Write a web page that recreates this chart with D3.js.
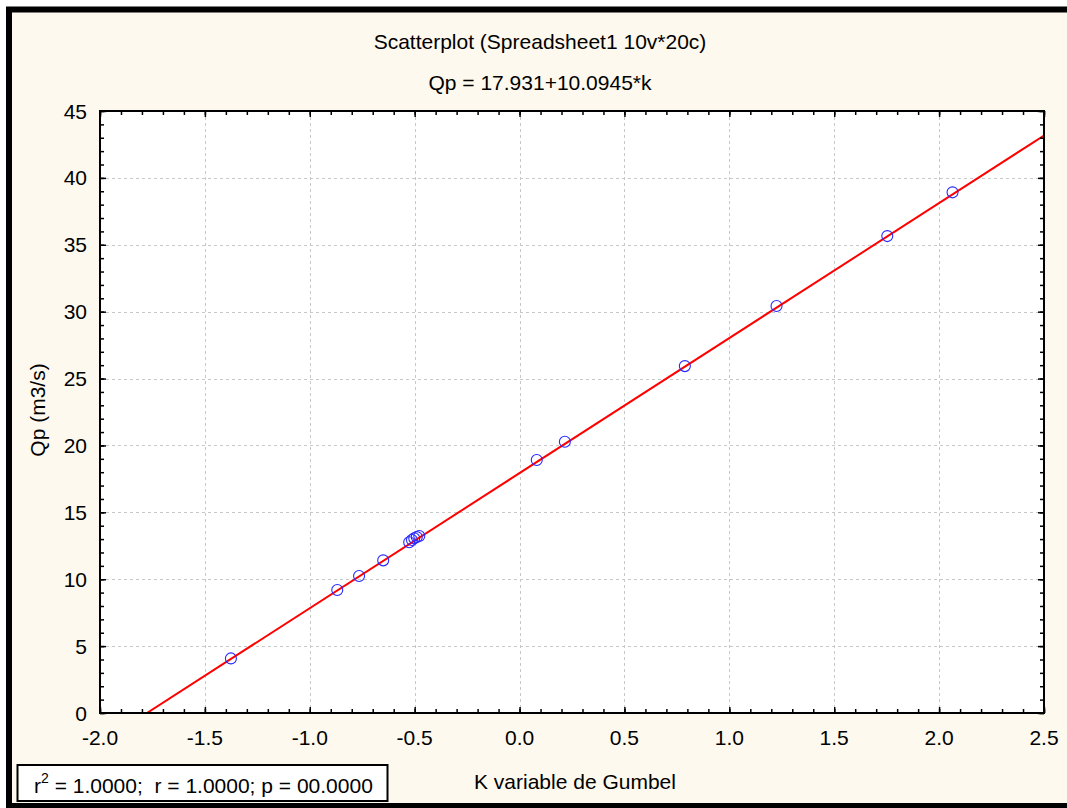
<!DOCTYPE html>
<html><head><meta charset="utf-8">
<script src="https://cdn.jsdelivr.net/npm/d3@7"></script>
<style>body{margin:0;background:#fff;}svg{display:block;font-family:"Liberation Sans",Arial,sans-serif;}</style>
</head><body>
<script>
const kValues = [-1.376, -0.869, -0.765, -0.650, -0.526, -0.513, -0.502, -0.490, -0.478, 0.082, 0.216, 0.788, 1.225, 1.753, 2.064];
const qpValues = [4.08, 9.19, 10.24, 11.41, 12.76, 12.93, 13.06, 13.15, 13.23, 18.91, 20.28, 25.93, 30.42, 35.65, 38.92];
const xTicks = [-2.0, -1.5, -1.0, -0.5, 0.0, 0.5, 1.0, 1.5, 2.0, 2.5];
const yTicks = [0, 5, 10, 15, 20, 25, 30, 35, 40, 45];
const intercept = 17.931, slope = 10.0945;
const titleText = "Scatterplot (Spreadsheet1 10v*20c)";
const eqText = "Qp = 17.931+10.0945*k";
const xLabel = "K variable de Gumbel";
const yLabel = "Qp (m3/s)";

const W = 1067, H = 808, FS = 21;
const svg = d3.select("body").append("svg").attr("width", W).attr("height", H);
svg.append("rect").attr("x",0).attr("y",0).attr("width",W).attr("height",H).attr("fill","#fff");
svg.append("rect").attr("x",9).attr("y",9.5).attr("width",1100).attr("height",796.5)
  .attr("fill","#fdf9ee").attr("stroke","#000").attr("stroke-width",6);

const L=100, R=1044, T=111, B=713;
const x = d3.scaleLinear().domain([-2,2.5]).range([L,R]);
const y = d3.scaleLinear().domain([0,45]).range([B,T]);

svg.append("rect").attr("x",L).attr("y",T).attr("width",R-L).attr("height",B-T).attr("fill","#fff");

// grid
const g = svg.append("g");
g.selectAll(".gx").data(xTicks.slice(1,-1)).join("line")
  .attr("x1",d=>Math.round(x(d))+0.5).attr("x2",d=>Math.round(x(d))+0.5).attr("y1",T).attr("y2",B)
  .attr("stroke","#c8c8c8").attr("stroke-dasharray","3,3");
g.selectAll(".gy").data(yTicks.slice(1,-1)).join("line")
  .attr("y1",d=>Math.round(y(d))+0.5).attr("y2",d=>Math.round(y(d))+0.5).attr("x1",L).attr("x2",R)
  .attr("stroke","#c8c8c8").attr("stroke-dasharray","3,3");

// regression line
svg.append("clipPath").attr("id","pc").append("rect").attr("x",L).attr("y",T).attr("width",R-L).attr("height",B-T);
const x0 = -intercept/slope;
svg.append("line").attr("clip-path","url(#pc)")
  .attr("x1",x(x0)).attr("y1",y(0)).attr("x2",x(2.5)).attr("y2",y(intercept+slope*2.5))
  .attr("stroke","#f00").attr("stroke-width",2);

// points
svg.selectAll(".pt").data(kValues).join("circle")
  .attr("cx",d=>x(d)).attr("cy",(d,i)=>y(qpValues[i])).attr("r",5.5)
  .attr("fill","none").attr("stroke","#2828ff").attr("stroke-width",1.1);

// axes with inward ticks
const fmt = d => d3.format(".1f")(d).replace("\u2212","-");
const xMinor = d3.range(-2,2.5001,0.1);
const yMinor = d3.range(0,45.001,1);
function addAxis(axisFn, scale, transform, ticks, len){
  const a = axisFn(scale).tickValues(ticks).tickSizeInner(len).tickSizeOuter(0).tickFormat("");
  const gg = svg.append("g").attr("transform",transform).call(a);
  gg.select(".domain").remove();
  gg.selectAll("line").attr("stroke","#000").attr("stroke-width",1.5);
  return gg;
}
addAxis(d3.axisTop, x, `translate(0,${B})`, xMinor, 4);
addAxis(d3.axisTop, x, `translate(0,${B})`, xTicks, 6);
addAxis(d3.axisBottom, x, `translate(0,${T})`, xMinor, 4);
addAxis(d3.axisBottom, x, `translate(0,${T})`, xTicks, 6);
addAxis(d3.axisRight, y, `translate(${L},0)`, yMinor, 4);
addAxis(d3.axisRight, y, `translate(${L},0)`, yTicks, 6);
addAxis(d3.axisLeft, y, `translate(${R},0)`, yMinor, 4);
addAxis(d3.axisLeft, y, `translate(${R},0)`, yTicks, 6);

// frame
svg.append("rect").attr("x",L).attr("y",T).attr("width",R-L).attr("height",B-T)
  .attr("fill","none").attr("stroke","#000").attr("stroke-width",2);

// tick labels
svg.selectAll(".xl").data(xTicks).join("text")
  .attr("x",d=>x(d)).attr("y",745).attr("text-anchor","middle").attr("font-size",FS).attr("fill","#000")
  .text(d=>fmt(d));
svg.selectAll(".yl").data(yTicks).join("text")
  .attr("x",87).attr("y",d=>y(d)+7.5).attr("text-anchor","end").attr("font-size",FS).attr("fill","#000")
  .text(d=>d);

// titles
svg.append("text").attr("x",540).attr("y",49).attr("text-anchor","middle").attr("font-size",FS).text(titleText);
svg.append("text").attr("x",540).attr("y",90).attr("text-anchor","middle").attr("font-size",FS).text(eqText);
svg.append("text").attr("x",575).attr("y",789).attr("text-anchor","middle").attr("font-size",FS).text(xLabel);
svg.append("text").attr("transform","translate(45,410) rotate(-90)").attr("text-anchor","middle").attr("font-size",FS).text(yLabel);

// stats box
svg.append("rect").attr("x",17.5).attr("y",765).attr("width",370).attr("height",36)
  .attr("fill","#fff").attr("stroke","#000").attr("stroke-width",2);
const st = svg.append("text").attr("x",34).attr("y",793).attr("font-size",FS);
st.append("tspan").text("r");
st.append("tspan").attr("dy",-10).attr("font-size",14).text("2");
st.append("tspan").attr("dy",10).text(" = 1.0000;\u00a0\u00a0r = 1.0000; p = 00.0000");
</script>
</body></html>
